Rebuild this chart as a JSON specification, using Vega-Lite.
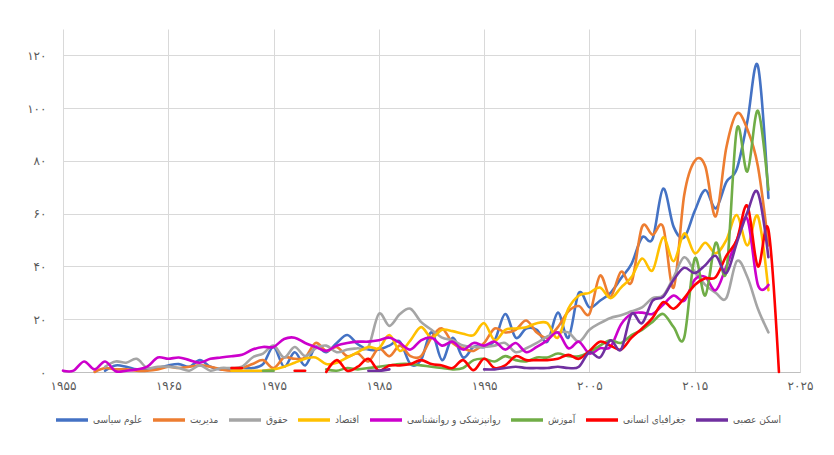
{
  "$schema": "https://vega.github.io/schema/vega-lite/v6.json",
  "autosize": {"type": "none"},
  "width": 737,
  "height": 343,
  "padding": {"left": 63, "top": 29, "right": 34, "bottom": 83},
  "background": "white",
  "config": {
    "view": {"stroke": null},
    "font": "DejaVu Sans",
    "axis": {"gridColor": "#d9d9d9", "gridWidth": 1, "labelColor": "#595959", "ticks": false, "labelFont": "DejaVu Sans", "labelFontSize": 12}
  },
  "data": {"values": [
    {"year":1959,"s":"علوم سیاسی","v":0.5},{"year":1960,"s":"علوم سیاسی","v":2.5},{"year":1961,"s":"علوم سیاسی","v":2},{"year":1962,"s":"علوم سیاسی","v":1},{"year":1963,"s":"علوم سیاسی","v":1},{"year":1964,"s":"علوم سیاسی","v":1.5},{"year":1965,"s":"علوم سیاسی","v":2.5},{"year":1966,"s":"علوم سیاسی","v":3},{"year":1967,"s":"علوم سیاسی","v":2},{"year":1968,"s":"علوم سیاسی","v":4.5},{"year":1969,"s":"علوم سیاسی","v":2},{"year":1970,"s":"علوم سیاسی","v":1},{"year":1971,"s":"علوم سیاسی","v":1},{"year":1972,"s":"علوم سیاسی","v":1.5},{"year":1973,"s":"علوم سیاسی","v":1.5},{"year":1974,"s":"علوم سیاسی","v":3},{"year":1975,"s":"علوم سیاسی","v":9.5},{"year":1976,"s":"علوم سیاسی","v":2},{"year":1977,"s":"علوم سیاسی","v":7.5},{"year":1978,"s":"علوم سیاسی","v":2.5},{"year":1979,"s":"علوم سیاسی","v":9.5},{"year":1980,"s":"علوم سیاسی","v":7.5},{"year":1981,"s":"علوم سیاسی","v":11},{"year":1982,"s":"علوم سیاسی","v":14},{"year":1983,"s":"علوم سیاسی","v":10.5},{"year":1984,"s":"علوم سیاسی","v":8.5},{"year":1985,"s":"علوم سیاسی","v":8.5},{"year":1986,"s":"علوم سیاسی","v":10},{"year":1987,"s":"علوم سیاسی","v":11.5},{"year":1988,"s":"علوم سیاسی","v":3},{"year":1989,"s":"علوم سیاسی","v":4.5},{"year":1990,"s":"علوم سیاسی","v":15},{"year":1991,"s":"علوم سیاسی","v":4.5},{"year":1992,"s":"علوم سیاسی","v":13},{"year":1993,"s":"علوم سیاسی","v":5.5},{"year":1994,"s":"علوم سیاسی","v":9.5},{"year":1995,"s":"علوم سیاسی","v":9.5},{"year":1996,"s":"علوم سیاسی","v":12},{"year":1997,"s":"علوم سیاسی","v":22},{"year":1998,"s":"علوم سیاسی","v":13},{"year":1999,"s":"علوم سیاسی","v":16.5},{"year":2000,"s":"علوم سیاسی","v":16},{"year":2001,"s":"علوم سیاسی","v":11.5},{"year":2002,"s":"علوم سیاسی","v":22.5},{"year":2003,"s":"علوم سیاسی","v":13},{"year":2004,"s":"علوم سیاسی","v":30},{"year":2005,"s":"علوم سیاسی","v":24.5},{"year":2006,"s":"علوم سیاسی","v":27},{"year":2007,"s":"علوم سیاسی","v":30},{"year":2008,"s":"علوم سیاسی","v":35.5},{"year":2009,"s":"علوم سیاسی","v":41},{"year":2010,"s":"علوم سیاسی","v":51},{"year":2011,"s":"علوم سیاسی","v":50.5},{"year":2012,"s":"علوم سیاسی","v":69.5},{"year":2013,"s":"علوم سیاسی","v":55},{"year":2014,"s":"علوم سیاسی","v":51},{"year":2015,"s":"علوم سیاسی","v":61},{"year":2016,"s":"علوم سیاسی","v":69},{"year":2017,"s":"علوم سیاسی","v":62},{"year":2018,"s":"علوم سیاسی","v":72},{"year":2019,"s":"علوم سیاسی","v":77},{"year":2020,"s":"علوم سیاسی","v":95},{"year":2021,"s":"علوم سیاسی","v":116},{"year":2022,"s":"علوم سیاسی","v":66},

    {"year":1958,"s":"مدیریت","v":0},{"year":1959,"s":"مدیریت","v":1.5},{"year":1960,"s":"مدیریت","v":1},{"year":1961,"s":"مدیریت","v":1},{"year":1962,"s":"مدیریت","v":0.5},{"year":1963,"s":"مدیریت","v":0.5},{"year":1964,"s":"مدیریت","v":1},{"year":1965,"s":"مدیریت","v":2},{"year":1966,"s":"مدیریت","v":1.5},{"year":1967,"s":"مدیریت","v":2},{"year":1968,"s":"مدیریت","v":2.5},{"year":1969,"s":"مدیریت","v":2},{"year":1970,"s":"مدیریت","v":1},{"year":1971,"s":"مدیریت","v":0.5},{"year":1972,"s":"مدیریت","v":1.5},{"year":1973,"s":"مدیریت","v":3},{"year":1974,"s":"مدیریت","v":4.5},{"year":1975,"s":"مدیریت","v":1.5},{"year":1976,"s":"مدیریت","v":5.5},{"year":1977,"s":"مدیریت","v":5},{"year":1978,"s":"مدیریت","v":5.5},{"year":1979,"s":"مدیریت","v":11},{"year":1980,"s":"مدیریت","v":8},{"year":1981,"s":"مدیریت","v":9.5},{"year":1982,"s":"مدیریت","v":6},{"year":1983,"s":"مدیریت","v":7},{"year":1984,"s":"مدیریت","v":4},{"year":1985,"s":"مدیریت","v":9},{"year":1986,"s":"مدیریت","v":6},{"year":1987,"s":"مدیریت","v":10},{"year":1988,"s":"مدیریت","v":6},{"year":1989,"s":"مدیریت","v":6},{"year":1990,"s":"مدیریت","v":13},{"year":1991,"s":"مدیریت","v":16.5},{"year":1992,"s":"مدیریت","v":11},{"year":1993,"s":"مدیریت","v":9},{"year":1994,"s":"مدیریت","v":8},{"year":1995,"s":"مدیریت","v":11},{"year":1996,"s":"مدیریت","v":16.5},{"year":1997,"s":"مدیریت","v":15},{"year":1998,"s":"مدیریت","v":16},{"year":1999,"s":"مدیریت","v":19.5},{"year":2000,"s":"مدیریت","v":15},{"year":2001,"s":"مدیریت","v":13},{"year":2002,"s":"مدیریت","v":17},{"year":2003,"s":"مدیریت","v":23},{"year":2004,"s":"مدیریت","v":25},{"year":2005,"s":"مدیریت","v":22},{"year":2006,"s":"مدیریت","v":36.5},{"year":2007,"s":"مدیریت","v":28.5},{"year":2008,"s":"مدیریت","v":38},{"year":2009,"s":"مدیریت","v":34},{"year":2010,"s":"مدیریت","v":55},{"year":2011,"s":"مدیریت","v":52},{"year":2012,"s":"مدیریت","v":55},{"year":2013,"s":"مدیریت","v":32},{"year":2014,"s":"مدیریت","v":67},{"year":2015,"s":"مدیریت","v":80},{"year":2016,"s":"مدیریت","v":78},{"year":2017,"s":"مدیریت","v":59},{"year":2018,"s":"مدیریت","v":85},{"year":2019,"s":"مدیریت","v":98},{"year":2020,"s":"مدیریت","v":92},{"year":2021,"s":"مدیریت","v":78},{"year":2022,"s":"مدیریت","v":48},

    {"year":1959,"s":"حقوق","v":2},{"year":1960,"s":"حقوق","v":4},{"year":1961,"s":"حقوق","v":3.5},{"year":1962,"s":"حقوق","v":5},{"year":1963,"s":"حقوق","v":1.5},{"year":1964,"s":"حقوق","v":2},{"year":1965,"s":"حقوق","v":2},{"year":1966,"s":"حقوق","v":1.5},{"year":1967,"s":"حقوق","v":0.5},{"year":1968,"s":"حقوق","v":2.5},{"year":1969,"s":"حقوق","v":0.5},{"year":1970,"s":"حقوق","v":1.5},{"year":1971,"s":"حقوق","v":1.5},{"year":1972,"s":"حقوق","v":2},{"year":1973,"s":"حقوق","v":5.5},{"year":1974,"s":"حقوق","v":7},{"year":1975,"s":"حقوق","v":10},{"year":1976,"s":"حقوق","v":5.5},{"year":1977,"s":"حقوق","v":9.5},{"year":1978,"s":"حقوق","v":6},{"year":1979,"s":"حقوق","v":9},{"year":1980,"s":"حقوق","v":10},{"year":1981,"s":"حقوق","v":7.5},{"year":1982,"s":"حقوق","v":8.5},{"year":1983,"s":"حقوق","v":9},{"year":1984,"s":"حقوق","v":9.5},{"year":1985,"s":"حقوق","v":22},{"year":1986,"s":"حقوق","v":17.5},{"year":1987,"s":"حقوق","v":22},{"year":1988,"s":"حقوق","v":24},{"year":1989,"s":"حقوق","v":19},{"year":1990,"s":"حقوق","v":16},{"year":1991,"s":"حقوق","v":13},{"year":1992,"s":"حقوق","v":12},{"year":1993,"s":"حقوق","v":10},{"year":1994,"s":"حقوق","v":9.5},{"year":1995,"s":"حقوق","v":9.5},{"year":1996,"s":"حقوق","v":10},{"year":1997,"s":"حقوق","v":11},{"year":1998,"s":"حقوق","v":7.5},{"year":1999,"s":"حقوق","v":9},{"year":2000,"s":"حقوق","v":11},{"year":2001,"s":"حقوق","v":13.5},{"year":2002,"s":"حقوق","v":15},{"year":2003,"s":"حقوق","v":15},{"year":2004,"s":"حقوق","v":11.5},{"year":2005,"s":"حقوق","v":16},{"year":2006,"s":"حقوق","v":18.5},{"year":2007,"s":"حقوق","v":20.5},{"year":2008,"s":"حقوق","v":21.5},{"year":2009,"s":"حقوق","v":23},{"year":2010,"s":"حقوق","v":24.5},{"year":2011,"s":"حقوق","v":28},{"year":2012,"s":"حقوق","v":29},{"year":2013,"s":"حقوق","v":36},{"year":2014,"s":"حقوق","v":43.5},{"year":2015,"s":"حقوق","v":38},{"year":2016,"s":"حقوق","v":33},{"year":2017,"s":"حقوق","v":30},{"year":2018,"s":"حقوق","v":28},{"year":2019,"s":"حقوق","v":42},{"year":2020,"s":"حقوق","v":36},{"year":2021,"s":"حقوق","v":24},{"year":2022,"s":"حقوق","v":15},

    {"year":1971,"s":"اقتصاد","v":0.5},{"year":1972,"s":"اقتصاد","v":0.5},{"year":1973,"s":"اقتصاد","v":0.5},{"year":1974,"s":"اقتصاد","v":0.5},{"year":1975,"s":"اقتصاد","v":1},{"year":1976,"s":"اقتصاد","v":2},{"year":1977,"s":"اقتصاد","v":3.5},{"year":1978,"s":"اقتصاد","v":5},{"year":1979,"s":"اقتصاد","v":5.5},{"year":1980,"s":"اقتصاد","v":3},{"year":1981,"s":"اقتصاد","v":3.5},{"year":1982,"s":"اقتصاد","v":5.5},{"year":1983,"s":"اقتصاد","v":7.5},{"year":1984,"s":"اقتصاد","v":9.5},{"year":1985,"s":"اقتصاد","v":9},{"year":1986,"s":"اقتصاد","v":14},{"year":1987,"s":"اقتصاد","v":8},{"year":1988,"s":"اقتصاد","v":12},{"year":1989,"s":"اقتصاد","v":17},{"year":1990,"s":"اقتصاد","v":13},{"year":1991,"s":"اقتصاد","v":16},{"year":1992,"s":"اقتصاد","v":15.5},{"year":1993,"s":"اقتصاد","v":14.5},{"year":1994,"s":"اقتصاد","v":14},{"year":1995,"s":"اقتصاد","v":18.5},{"year":1996,"s":"اقتصاد","v":12},{"year":1997,"s":"اقتصاد","v":16},{"year":1998,"s":"اقتصاد","v":16.5},{"year":1999,"s":"اقتصاد","v":17},{"year":2000,"s":"اقتصاد","v":18.5},{"year":2001,"s":"اقتصاد","v":18.5},{"year":2002,"s":"اقتصاد","v":13},{"year":2003,"s":"اقتصاد","v":24},{"year":2004,"s":"اقتصاد","v":29},{"year":2005,"s":"اقتصاد","v":30},{"year":2006,"s":"اقتصاد","v":32},{"year":2007,"s":"اقتصاد","v":28},{"year":2008,"s":"اقتصاد","v":32},{"year":2009,"s":"اقتصاد","v":36},{"year":2010,"s":"اقتصاد","v":43},{"year":2011,"s":"اقتصاد","v":38.5},{"year":2012,"s":"اقتصاد","v":51},{"year":2013,"s":"اقتصاد","v":42},{"year":2014,"s":"اقتصاد","v":52.5},{"year":2015,"s":"اقتصاد","v":45},{"year":2016,"s":"اقتصاد","v":49},{"year":2017,"s":"اقتصاد","v":45},{"year":2018,"s":"اقتصاد","v":50},{"year":2019,"s":"اقتصاد","v":59.5},{"year":2020,"s":"اقتصاد","v":48},{"year":2021,"s":"اقتصاد","v":59},{"year":2022,"s":"اقتصاد","v":31},

    {"year":1955,"s":"روانپزشکی و روانشناسی","v":0.5},{"year":1956,"s":"روانپزشکی و روانشناسی","v":0.5},{"year":1957,"s":"روانپزشکی و روانشناسی","v":4},{"year":1958,"s":"روانپزشکی و روانشناسی","v":1},{"year":1959,"s":"روانپزشکی و روانشناسی","v":4},{"year":1960,"s":"روانپزشکی و روانشناسی","v":0.3},{"year":1961,"s":"روانپزشکی و روانشناسی","v":0.5},{"year":1962,"s":"روانپزشکی و روانشناسی","v":1},{"year":1963,"s":"روانپزشکی و روانشناسی","v":2},{"year":1964,"s":"روانپزشکی و روانشناسی","v":5.5},{"year":1965,"s":"روانپزشکی و روانشناسی","v":5},{"year":1966,"s":"روانپزشکی و روانشناسی","v":5.5},{"year":1967,"s":"روانپزشکی و روانشناسی","v":4.5},{"year":1968,"s":"روانپزشکی و روانشناسی","v":3.5},{"year":1969,"s":"روانپزشکی و روانشناسی","v":5},{"year":1970,"s":"روانپزشکی و روانشناسی","v":5.5},{"year":1971,"s":"روانپزشکی و روانشناسی","v":6},{"year":1972,"s":"روانپزشکی و روانشناسی","v":6.5},{"year":1973,"s":"روانپزشکی و روانشناسی","v":8.5},{"year":1974,"s":"روانپزشکی و روانشناسی","v":9.5},{"year":1975,"s":"روانپزشکی و روانشناسی","v":9.5},{"year":1976,"s":"روانپزشکی و روانشناسی","v":12.5},{"year":1977,"s":"روانپزشکی و روانشناسی","v":13},{"year":1978,"s":"روانپزشکی و روانشناسی","v":11},{"year":1979,"s":"روانپزشکی و روانشناسی","v":9.5},{"year":1980,"s":"روانپزشکی و روانشناسی","v":8},{"year":1981,"s":"روانپزشکی و روانشناسی","v":10},{"year":1982,"s":"روانپزشکی و روانشناسی","v":11},{"year":1983,"s":"روانپزشکی و روانشناسی","v":11.5},{"year":1984,"s":"روانپزشکی و روانشناسی","v":11.5},{"year":1985,"s":"روانپزشکی و روانشناسی","v":12},{"year":1986,"s":"روانپزشکی و روانشناسی","v":13},{"year":1987,"s":"روانپزشکی و روانشناسی","v":11},{"year":1988,"s":"روانپزشکی و روانشناسی","v":8.5},{"year":1989,"s":"روانپزشکی و روانشناسی","v":12},{"year":1990,"s":"روانپزشکی و روانشناسی","v":13},{"year":1991,"s":"روانپزشکی و روانشناسی","v":10},{"year":1992,"s":"روانپزشکی و روانشناسی","v":11.5},{"year":1993,"s":"روانپزشکی و روانشناسی","v":8.5},{"year":1994,"s":"روانپزشکی و روانشناسی","v":11},{"year":1995,"s":"روانپزشکی و روانشناسی","v":10},{"year":1996,"s":"روانپزشکی و روانشناسی","v":11.5},{"year":1997,"s":"روانپزشکی و روانشناسی","v":8.5},{"year":1998,"s":"روانپزشکی و روانشناسی","v":11},{"year":1999,"s":"روانپزشکی و روانشناسی","v":7.5},{"year":2000,"s":"روانپزشکی و روانشناسی","v":9.5},{"year":2001,"s":"روانپزشکی و روانشناسی","v":12},{"year":2002,"s":"روانپزشکی و روانشناسی","v":15},{"year":2003,"s":"روانپزشکی و روانشناسی","v":9},{"year":2004,"s":"روانپزشکی و روانشناسی","v":11.5},{"year":2005,"s":"روانپزشکی و روانشناسی","v":7},{"year":2006,"s":"روانپزشکی و روانشناسی","v":9},{"year":2007,"s":"روانپزشکی و روانشناسی","v":9.5},{"year":2008,"s":"روانپزشکی و روانشناسی","v":18},{"year":2009,"s":"روانپزشکی و روانشناسی","v":22},{"year":2010,"s":"روانپزشکی و روانشناسی","v":22.5},{"year":2011,"s":"روانپزشکی و روانشناسی","v":22},{"year":2012,"s":"روانپزشکی و روانشناسی","v":25.5},{"year":2013,"s":"روانپزشکی و روانشناسی","v":29},{"year":2014,"s":"روانپزشکی و روانشناسی","v":27},{"year":2015,"s":"روانپزشکی و روانشناسی","v":35},{"year":2016,"s":"روانپزشکی و روانشناسی","v":36},{"year":2017,"s":"روانپزشکی و روانشناسی","v":31},{"year":2018,"s":"روانپزشکی و روانشناسی","v":40},{"year":2019,"s":"روانپزشکی و روانشناسی","v":50},{"year":2020,"s":"روانپزشکی و روانشناسی","v":58},{"year":2021,"s":"روانپزشکی و روانشناسی","v":33},{"year":2022,"s":"روانپزشکی و روانشناسی","v":33},

    {"year":1974,"s":"آموزش","v":0.5},{"year":1975,"s":"آموزش","v":0.5},{"year":1976,"s":"آموزش","v":null},{"year":1977,"s":"آموزش","v":null},{"year":1978,"s":"آموزش","v":null},{"year":1979,"s":"آموزش","v":null},{"year":1980,"s":"آموزش","v":1},{"year":1981,"s":"آموزش","v":0.5},{"year":1982,"s":"آموزش","v":1.5},{"year":1983,"s":"آموزش","v":1},{"year":1984,"s":"آموزش","v":1.5},{"year":1985,"s":"آموزش","v":2},{"year":1986,"s":"آموزش","v":2.5},{"year":1987,"s":"آموزش","v":3},{"year":1988,"s":"آموزش","v":3},{"year":1989,"s":"آموزش","v":2.5},{"year":1990,"s":"آموزش","v":2},{"year":1991,"s":"آموزش","v":1.5},{"year":1992,"s":"آموزش","v":1},{"year":1993,"s":"آموزش","v":1.5},{"year":1994,"s":"آموزش","v":4.5},{"year":1995,"s":"آموزش","v":5},{"year":1996,"s":"آموزش","v":4},{"year":1997,"s":"آموزش","v":6},{"year":1998,"s":"آموزش","v":4.5},{"year":1999,"s":"آموزش","v":4},{"year":2000,"s":"آموزش","v":5.5},{"year":2001,"s":"آموزش","v":5.5},{"year":2002,"s":"آموزش","v":7},{"year":2003,"s":"آموزش","v":6},{"year":2004,"s":"آموزش","v":6},{"year":2005,"s":"آموزش","v":7.5},{"year":2006,"s":"آموزش","v":10},{"year":2007,"s":"آموزش","v":12},{"year":2008,"s":"آموزش","v":11},{"year":2009,"s":"آموزش","v":14},{"year":2010,"s":"آموزش","v":16},{"year":2011,"s":"آموزش","v":19},{"year":2012,"s":"آموزش","v":22},{"year":2013,"s":"آموزش","v":17},{"year":2014,"s":"آموزش","v":13},{"year":2015,"s":"آموزش","v":43},{"year":2016,"s":"آموزش","v":29},{"year":2017,"s":"آموزش","v":49},{"year":2018,"s":"آموزش","v":38},{"year":2019,"s":"آموزش","v":92},{"year":2020,"s":"آموزش","v":76},{"year":2021,"s":"آموزش","v":99},{"year":2022,"s":"آموزش","v":69},

    {"year":1971,"s":"جغرافیای انسانی","v":1.5},{"year":1972,"s":"جغرافیای انسانی","v":1.5},{"year":1973,"s":"جغرافیای انسانی","v":null},{"year":1974,"s":"جغرافیای انسانی","v":null},{"year":1975,"s":"جغرافیای انسانی","v":null},{"year":1976,"s":"جغرافیای انسانی","v":null},{"year":1977,"s":"جغرافیای انسانی","v":0.5},{"year":1978,"s":"جغرافیای انسانی","v":0.5},{"year":1979,"s":"جغرافیای انسانی","v":null},{"year":1980,"s":"جغرافیای انسانی","v":0},{"year":1981,"s":"جغرافیای انسانی","v":4.5},{"year":1982,"s":"جغرافیای انسانی","v":0.5},{"year":1983,"s":"جغرافیای انسانی","v":2},{"year":1984,"s":"جغرافیای انسانی","v":5},{"year":1985,"s":"جغرافیای انسانی","v":0.5},{"year":1986,"s":"جغرافیای انسانی","v":2.5},{"year":1987,"s":"جغرافیای انسانی","v":2.5},{"year":1988,"s":"جغرافیای انسانی","v":3},{"year":1989,"s":"جغرافیای انسانی","v":4.5},{"year":1990,"s":"جغرافیای انسانی","v":3},{"year":1991,"s":"جغرافیای انسانی","v":2.5},{"year":1992,"s":"جغرافیای انسانی","v":1.5},{"year":1993,"s":"جغرافیای انسانی","v":4.5},{"year":1994,"s":"جغرافیای انسانی","v":0.7},{"year":1995,"s":"جغرافیای انسانی","v":5},{"year":1996,"s":"جغرافیای انسانی","v":1.5},{"year":1997,"s":"جغرافیای انسانی","v":2.5},{"year":1998,"s":"جغرافیای انسانی","v":6},{"year":1999,"s":"جغرافیای انسانی","v":4.5},{"year":2000,"s":"جغرافیای انسانی","v":4.5},{"year":2001,"s":"جغرافیای انسانی","v":4.5},{"year":2002,"s":"جغرافیای انسانی","v":5},{"year":2003,"s":"جغرافیای انسانی","v":6.5},{"year":2004,"s":"جغرافیای انسانی","v":5},{"year":2005,"s":"جغرافیای انسانی","v":8},{"year":2006,"s":"جغرافیای انسانی","v":11.5},{"year":2007,"s":"جغرافیای انسانی","v":10},{"year":2008,"s":"جغرافیای انسانی","v":8.5},{"year":2009,"s":"جغرافیای انسانی","v":13},{"year":2010,"s":"جغرافیای انسانی","v":16.5},{"year":2011,"s":"جغرافیای انسانی","v":20.5},{"year":2012,"s":"جغرافیای انسانی","v":26.5},{"year":2013,"s":"جغرافیای انسانی","v":24},{"year":2014,"s":"جغرافیای انسانی","v":28},{"year":2015,"s":"جغرافیای انسانی","v":33},{"year":2016,"s":"جغرافیای انسانی","v":35.5},{"year":2017,"s":"جغرافیای انسانی","v":36},{"year":2018,"s":"جغرافیای انسانی","v":44},{"year":2019,"s":"جغرافیای انسانی","v":50},{"year":2020,"s":"جغرافیای انسانی","v":63},{"year":2021,"s":"جغرافیای انسانی","v":40},{"year":2022,"s":"جغرافیای انسانی","v":54},{"year":2023,"s":"جغرافیای انسانی","v":0},

    {"year":1984,"s":"اسکن عصبی","v":0.5},{"year":1985,"s":"اسکن عصبی","v":0.5},{"year":1986,"s":"اسکن عصبی","v":1},{"year":1987,"s":"اسکن عصبی","v":null},{"year":1988,"s":"اسکن عصبی","v":null},{"year":1989,"s":"اسکن عصبی","v":null},{"year":1990,"s":"اسکن عصبی","v":null},{"year":1991,"s":"اسکن عصبی","v":null},{"year":1992,"s":"اسکن عصبی","v":null},{"year":1993,"s":"اسکن عصبی","v":null},{"year":1994,"s":"اسکن عصبی","v":null},{"year":1995,"s":"اسکن عصبی","v":1},{"year":1996,"s":"اسکن عصبی","v":1},{"year":1997,"s":"اسکن عصبی","v":1.5},{"year":1998,"s":"اسکن عصبی","v":2},{"year":1999,"s":"اسکن عصبی","v":1.5},{"year":2000,"s":"اسکن عصبی","v":1.5},{"year":2001,"s":"اسکن عصبی","v":1.5},{"year":2002,"s":"اسکن عصبی","v":2},{"year":2003,"s":"اسکن عصبی","v":1.5},{"year":2004,"s":"اسکن عصبی","v":2},{"year":2005,"s":"اسکن عصبی","v":7.5},{"year":2006,"s":"اسکن عصبی","v":5.5},{"year":2007,"s":"اسکن عصبی","v":12},{"year":2008,"s":"اسکن عصبی","v":8.5},{"year":2009,"s":"اسکن عصبی","v":22},{"year":2010,"s":"اسکن عصبی","v":18.5},{"year":2011,"s":"اسکن عصبی","v":27},{"year":2012,"s":"اسکن عصبی","v":28.5},{"year":2013,"s":"اسکن عصبی","v":35},{"year":2014,"s":"اسکن عصبی","v":39.5},{"year":2015,"s":"اسکن عصبی","v":37.5},{"year":2016,"s":"اسکن عصبی","v":40.5},{"year":2017,"s":"اسکن عصبی","v":44},{"year":2018,"s":"اسکن عصبی","v":37.5},{"year":2019,"s":"اسکن عصبی","v":49},{"year":2020,"s":"اسکن عصبی","v":60.5},{"year":2021,"s":"اسکن عصبی","v":68},{"year":2022,"s":"اسکن عصبی","v":43.5}
  ]},
  "mark": {"type": "line", "interpolate": "cardinal", "tension": 0, "strokeWidth": 2.6, "invalid": "break-paths-show-domains", "strokeCap": "round"},
  "encoding": {
    "x": {
      "field": "year", "type": "quantitative",
      "scale": {"domain": [1955, 2025], "nice": false, "zero": false},
      "axis": {
        "title": null, "values": [1955, 1965, 1975, 1985, 1995, 2005, 2015, 2025], "format": "d",
        "grid": true, "domain": true, "domainColor": "#bfbfbf", "labelPadding": 8, "labelFontSize": 12, "labelFlush": false,
        "labelExpr": "replace(replace(replace(replace(replace(replace(replace(replace(replace(replace(datum.label,regexp('0','g'),'۰'),regexp('1','g'),'۱'),regexp('2','g'),'۲'),regexp('3','g'),'۳'),regexp('4','g'),'۴'),regexp('5','g'),'۵'),regexp('6','g'),'۶'),regexp('7','g'),'۷'),regexp('8','g'),'۸'),regexp('9','g'),'۹')"
      }
    },
    "y": {
      "field": "v", "type": "quantitative",
      "scale": {"domain": [0, 130], "nice": false},
      "axis": {
        "title": null, "values": [0, 20, 40, 60, 80, 100, 120], "grid": true, "domain": false, "labelPadding": 17,
        "labelExpr": "replace(replace(replace(replace(replace(replace(replace(replace(replace(replace(datum.label,regexp('0','g'),'۰'),regexp('1','g'),'۱'),regexp('2','g'),'۲'),regexp('3','g'),'۳'),regexp('4','g'),'۴'),regexp('5','g'),'۵'),regexp('6','g'),'۶'),regexp('7','g'),'۷'),regexp('8','g'),'۸'),regexp('9','g'),'۹')"
      }
    },
    "color": {
      "field": "s", "type": "nominal",
      "scale": {
        "domain": ["علوم سیاسی", "مدیریت", "حقوق", "اقتصاد", "روانپزشکی و روانشناسی", "آموزش", "جغرافیای انسانی", "اسکن عصبی"],
        "range": ["#4472C4", "#ED7D31", "#A5A5A5", "#FFC000", "#CC00CC", "#70AD47", "#FF0000", "#7030A0"]
      },
      "legend": {
        "title": null, "orient": "none", "legendX": -9, "legendY": 373, "direction": "horizontal",
        "symbolType": "stroke", "symbolSize": 1024, "symbolStrokeWidth": 3.5, "labelFontSize": 10,
        "labelColor": "#595959", "labelOffset": 3, "columnPadding": 3, "labelFont": "DejaVu Sans Condensed"
      }
    }
  }
}
